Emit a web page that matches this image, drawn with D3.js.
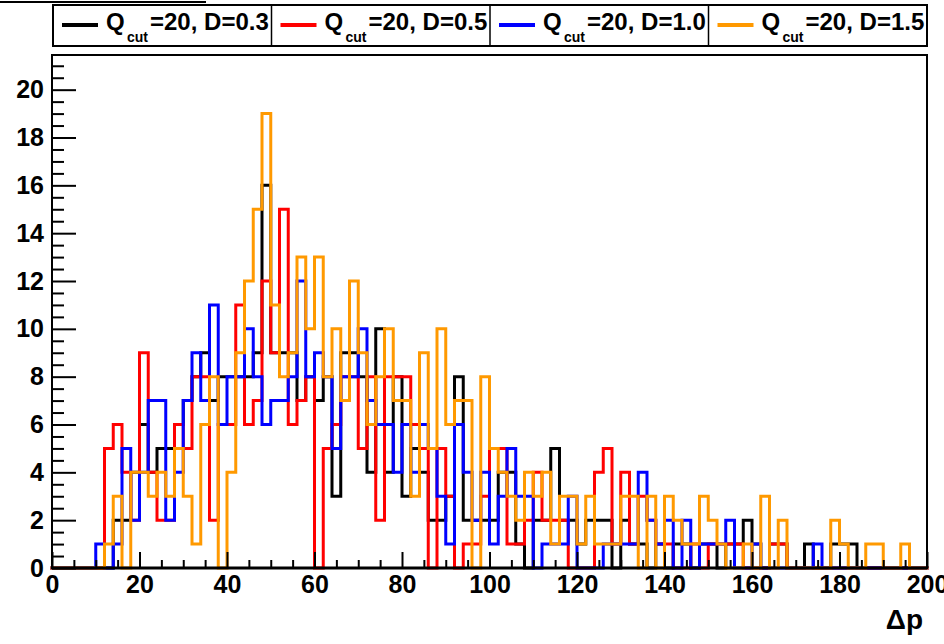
<!DOCTYPE html>
<html><head><meta charset="utf-8">
<script src="https://cdn.jsdelivr.net/npm/d3@7"></script>
<style>
body{margin:0;background:#fff;}
svg{display:block;}
</style></head>
<body>
<svg id="c" width="944" height="644"></svg>
<script>
// ---- data (bins of width 2 over 0..200) ----
const binEdges = d3.range(0, 202, 2);
const seriesNames = ["D=0.3", "D=0.5", "D=1.0", "D=1.5"];
const seriesColors = ["#000000", "#ff0000", "#0000ff", "#ff9900"];
const legendLabels = ["=20, D=0.3", "=20, D=0.5", "=20, D=1.0", "=20, D=1.5"];
const yTickLabels = [0,2,4,6,8,10,12,14,16,18,20];
const xTickLabels = [0,20,40,60,80,100,120,140,160,180,200];

const valsD03 = [0,0,0,0,0,0,0,2,2,4, 6,4,5,5,6,7,8,9,7,8, 8,8,8,9,16,9,9,9,7,8,
  7,8,3,9,9,8,4,10,4,8, 3,5,4,2,2,3,8,2,2,2, 2,4,4,1,0,2,2,5,2,2,
  1,2,2,2,0,2,1,1,0,1, 0,1,1,0,1,1,0,1,1,2, 1,0,1,1,0,0,1,0,0,1, 1,1,0,0,0,0,0,0,0,0];
const valsD05 = [0,0,0,0,0,0,5,6,4,2, 9,4,2,2,6,5,8,8,2,6, 6,11,6,7,12,9,15,6,7,8,
  0,5,6,8,8,5,8,2,8,8, 8,6,5,0,5,3,0,1,1,3, 5,5,1,1,2,4,2,2,2,0,
  0,0,4,5,1,4,1,3,2,1, 1,0,0,1,0,1,1,1,1,0, 0,0,1,1,0,0,0,0,0,0, 0,0,0,0,0,0,0,0,0,0];
const valsD10 = [0,0,0,0,0,1,0,1,5,2, 4,7,7,2,4,7,9,7,11,6, 8,8,10,8,6,7,7,8,12,8,
  9,8,5,8,8,10,7,6,6,4, 6,4,6,5,3,1,6,4,2,4, 1,3,5,3,3,0,1,1,1,3,
  0,0,0,1,1,1,1,4,2,1, 2,0,2,0,1,1,1,2,0,0, 1,0,0,0,0,0,0,1,0,0, 0,0,0,0,0,0,0,0,0,0];
const valsD15 = [0,0,0,0,0,0,1,3,0,4, 4,3,4,3,5,3,1,6,8,0, 4,9,12,15,19,11,8,9,13,10,
  13,8,10,7,12,9,6,8,10,7, 7,3,9,5,10,6,7,7,0,8, 5,4,3,2,4,3,4,1,3,3,
  1,3,1,1,1,3,3,0,3,0, 3,2,1,1,3,2,1,0,0,1, 0,3,0,2,0,0,0,0,0,2, 1,0,0,1,1,0,0,1,0,0];
const seriesValues = [valsD03, valsD05, valsD10, valsD15];

// ---- layout ----
const svg = d3.select("#c");
const L = 52, R = 927, T = 55, B = 568;
const x = d3.scaleLinear().domain([0, 200]).range([L, R]);
const y = d3.scaleLinear().domain([0, 21.45]).range([B, T]);
const FONT = "'Liberation Sans', Arial, Helvetica, sans-serif";

// top-left stray title line
svg.append("line").attr("x1", 0).attr("x2", 206).attr("y1", 2).attr("y2", 2)
  .attr("stroke", "#000").attr("stroke-width", 2);

// histograms
const line = d3.line().x(d => d[0]).y(d => d[1]);
seriesValues.forEach((vals, si) => {
  const pts = [[x(binEdges[0]), y(0)]];
  vals.forEach((v, i) => {
    pts.push([x(binEdges[i]), y(v)]);
    pts.push([x(binEdges[i + 1]), y(v)]);
  });
  pts.push([x(binEdges[binEdges.length - 1]), y(0)]);
  svg.append("path").attr("d", line(pts)).attr("fill", "none")
    .attr("stroke", seriesColors[si]).attr("stroke-width", 3)
    .attr("stroke-linejoin", "miter").attr("stroke-linecap", "square");
});

// axes
function styleAxis(g) {
  g.select(".domain").remove();
  g.selectAll("line").attr("stroke", "#000").attr("stroke-width", 2);
  g.selectAll("text").attr("font-family", FONT).attr("font-weight", "bold")
    .attr("font-size", 25).attr("fill", "#000");
}
const yMinor = d3.range(0, 21.45, 0.5).filter(v => !yTickLabels.includes(v));
svg.append("g").attr("transform", `translate(${L},0)`)
  .call(d3.axisLeft(y).tickValues(yMinor).tickSize(-12).tickFormat(""))
  .call(styleAxis);
svg.append("g").attr("transform", `translate(${L},0)`)
  .call(d3.axisLeft(y).tickValues(yTickLabels).tickSize(-24).tickPadding(8).tickFormat(d3.format("d")))
  .call(styleAxis);

const xMinor = d3.range(0, 201, 5).filter(v => !xTickLabels.includes(v));
svg.append("g").attr("transform", `translate(0,${B})`)
  .call(d3.axisBottom(x).tickValues(xMinor).tickSize(-8).tickFormat(""))
  .call(styleAxis);
svg.append("g").attr("transform", `translate(0,${B})`)
  .call(d3.axisBottom(x).tickValues(xTickLabels).tickSize(-16).tickPadding(7).tickFormat(d3.format("d")))
  .call(styleAxis);

// frame
svg.append("rect").attr("x", L).attr("y", T).attr("width", R - L).attr("height", B - T)
  .attr("fill", "none").attr("stroke", "#000").attr("stroke-width", 2);
svg.append("line").attr("x1", L).attr("x2", R).attr("y1", B).attr("y2", B)
  .attr("stroke", "#000").attr("stroke-width", 3);

// x title
svg.append("text").attr("x", 923).attr("y", 629).attr("text-anchor", "end")
  .attr("font-family", FONT).attr("font-weight", "bold").attr("font-size", 28)
  .text("Δp");

// legend
const LX0 = 53, LX1 = 927, LY0 = 5, LY1 = 46;
const colW = (LX1 - LX0) / seriesNames.length;
const leg = svg.append("g");
leg.append("rect").attr("x", LX0).attr("y", LY0).attr("width", LX1 - LX0).attr("height", LY1 - LY0)
  .attr("fill", "#fff").attr("stroke", "#000").attr("stroke-width", 2);
seriesNames.forEach((n, i) => {
  const cx = LX0 + i * colW;
  if (i > 0) leg.append("line").attr("x1", cx).attr("x2", cx).attr("y1", LY0).attr("y2", LY1)
    .attr("stroke", "#000").attr("stroke-width", 1.5);
  leg.append("line").attr("x1", cx + 9).attr("x2", cx + 45).attr("y1", 25).attr("y2", 25)
    .attr("stroke", seriesColors[i]).attr("stroke-width", 4);
  const t = leg.append("text").attr("font-family", FONT).attr("font-weight", "bold").attr("fill", "#000");
  t.append("tspan").attr("x", cx + 53).attr("y", 30).attr("font-size", 24).text("Q");
  t.append("tspan").attr("x", cx + 74).attr("y", 42).attr("font-size", 14).text("cut");
  t.append("tspan").attr("x", cx + 97).attr("y", 30).attr("font-size", 24).text(legendLabels[i]);
});
</script>
</body></html>
